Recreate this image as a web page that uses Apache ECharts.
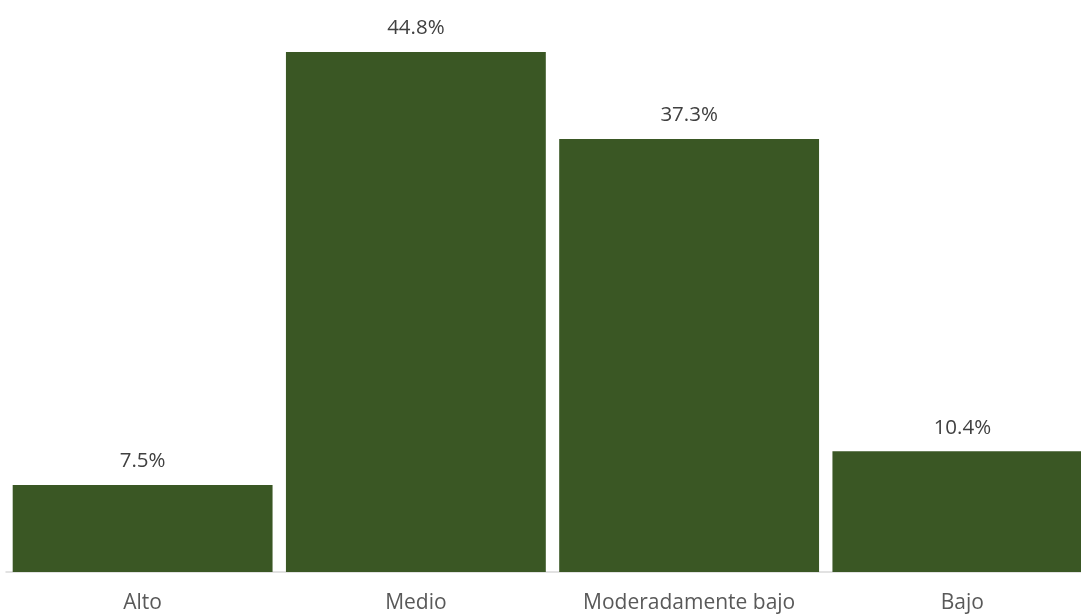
<!DOCTYPE html>
<html>
<head>
<meta charset="utf-8">
<script src="https://cdn.jsdelivr.net/npm/echarts@6/dist/echarts.min.js"></script>
<style>
  html, body { margin: 0; padding: 0; background: #ffffff; }
  #chart { width: 1081px; height: 614px; }
</style>
</head>
<body>
<div id="chart"></div>
<script>
// Distribution by level (percent)
const categories = ['Alto', 'Medio', 'Moderadamente bajo', 'Bajo'];
const shares = [7.5, 44.8, 37.3, 10.4];

const chart = echarts.init(document.getElementById('chart'));
chart.setOption({
  animation: false,
  // the plot runs past the right edge, so the last bar is cut off
  grid: { left: 6, top: 52, bottom: 42, width: 1093, outerBoundsMode: 'none', containLabel: false },
  xAxis: {
    type: 'category',
    data: categories,
    axisLine: { lineStyle: { color: '#d9d9d9', width: 1.5 } },
    axisTick: { show: false },
    axisLabel: {
      interval: 0,
      color: '#595959',
      fontFamily: 'Open Sans, Noto Sans, sans-serif',
      fontSize: 21,
      margin: 21
    }
  },
  yAxis: {
    type: 'value',
    min: 0,
    max: 44.8,
    show: false
  },
  series: [{
    type: 'bar',
    data: shares,
    barCategoryGap: '4.9%',
    itemStyle: { color: '#3a5724' },
    label: {
      show: true,
      position: 'top',
      distance: 13,
      color: '#404040',
      fontFamily: 'Open Sans, Noto Sans, sans-serif',
      fontSize: 20.5,
      formatter: p => p.value.toFixed(1) + '%'
    }
  }]
});
</script>
</body>
</html>
